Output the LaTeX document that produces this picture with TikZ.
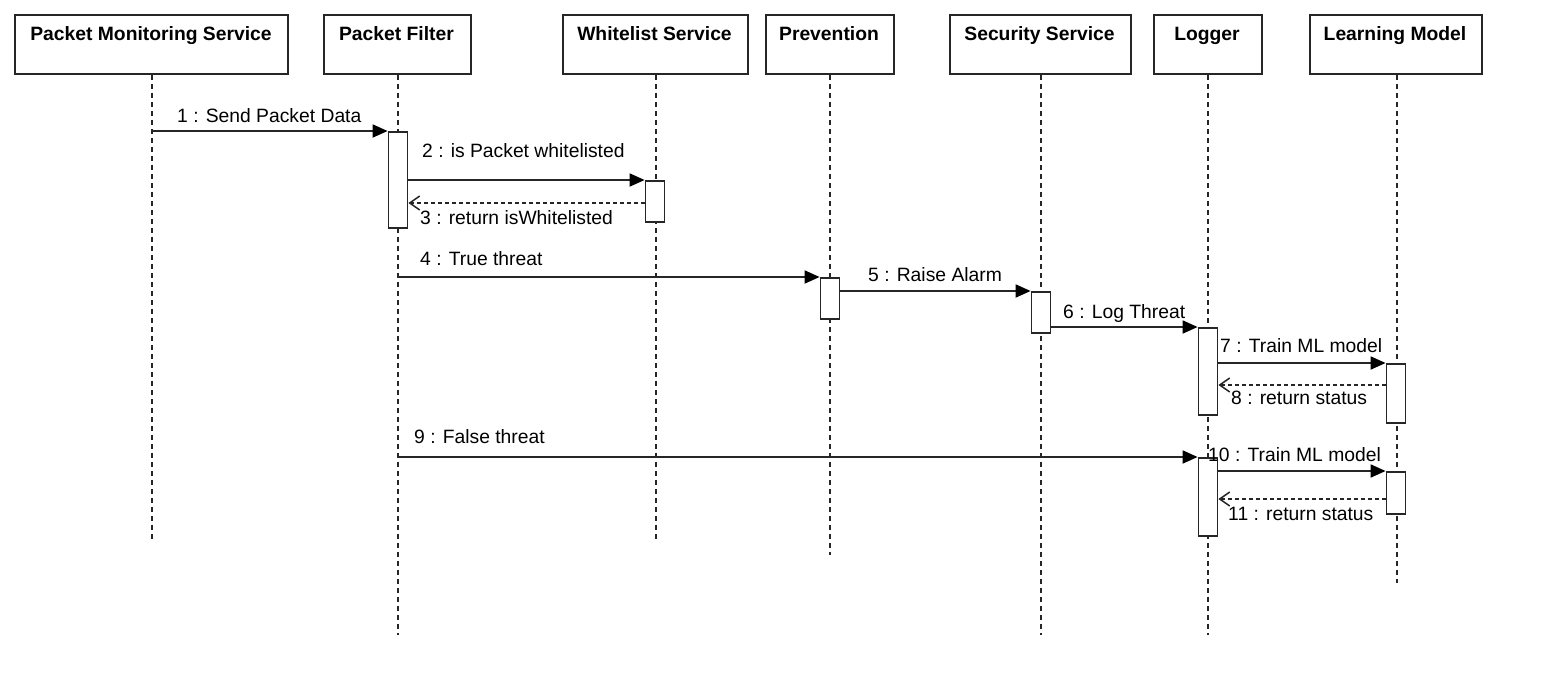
\documentclass[tikz,border=0pt]{standalone}
\usepackage{fontspec}
\setmainfont{Liberation Sans}
\usetikzlibrary{arrows.meta,calc}
\begin{document}
\begin{tikzpicture}[x=1pt,y=-1pt,
  hdr/.style={draw=black!85, line width=1.8pt, rectangle, inner sep=0pt, anchor=north west, minimum height=59pt},
  hdrtext/.style={font=\fontsize{19.3}{22}\selectfont\bfseries, inner sep=0pt, anchor=base},
  life/.style={draw=black!85, line width=1.3pt, dash pattern=on 5pt off 4pt},
  act/.style={draw=black!85, fill=white, line width=1.8pt, rectangle, inner sep=0pt, minimum width=19pt, anchor=north},
  msg/.style={draw=black!85, line width=1.8pt, -{Triangle[length=15pt,width=13pt,fill=black,color=black]}},
  ret/.style={draw=black!85, line width=1.5pt, dash pattern=on 4pt off 3pt, -{Straight Barb[length=10pt,width=14pt]}},
  lbl/.style={font=\fontsize{19.3}{22}\selectfont, inner sep=0pt, anchor=base west}]
\useasboundingbox[fill=white] (0,0) rectangle (1542,699);

% headers
\node[hdr, minimum width=273pt] (pms) at (14,14) {};
\node[hdrtext] (pmsT) at (151,40) {Packet Monitoring Service};
\node[hdr, minimum width=147pt] (pf) at (323,14) {};
\node[hdrtext] (pfT) at (396.5,40) {Packet Filter};
\node[hdr, minimum width=185pt] (wl) at (562,14) {};
\node[hdrtext] (wlT) at (654.5,40) {Whitelist Service};
\node[hdr, minimum width=128pt] (pv) at (765,14) {};
\node[hdrtext] (pvT) at (829,40) {Prevention};
\node[hdr, minimum width=181pt] (ss) at (949,14) {};
\node[hdrtext] (ssT) at (1039.5,40) {Security Service};
\node[hdr, minimum width=108pt] (lg) at (1153,14) {};
\node[hdrtext] (lgT) at (1207,40) {Logger};
\node[hdr, minimum width=172pt] (lm) at (1309,14) {};
\node[hdrtext] (lmT) at (1395,40) {Learning Model};

% lifeline ends
\coordinate (pmsE) at (152,540);
\coordinate (pfE) at (398,635);
\coordinate (wlE) at (656,540);
\coordinate (pvE) at (830,555);
\coordinate (ssE) at (1041,635);
\coordinate (lgE) at (1208,635);
\coordinate (lmE) at (1397,583);

\draw[life] (pms.south -| pmsE) -- (pmsE);
\draw[life] (pf.south -| pfE) -- (pfE);
\draw[life] (wl.south -| wlE) -- (wlE);
\draw[life] (pv.south -| pvE) -- (pvE);
\draw[life] (ss.south -| ssE) -- (ssE);
\draw[life] (lg.south -| lgE) -- (lgE);
\draw[life] (lm.south -| lmE) -- (lmE);

% activations
\node[act, minimum height=96pt] (a1) at (398,131) {};
\node[act, minimum height=41pt] (w1) at (655,180) {};
\node[act, minimum height=41pt] (p1) at (830,277) {};
\node[act, minimum height=41pt] (s1) at (1041,291) {};
\node[act, minimum height=87pt] (l1) at (1208,327) {};
\node[act, minimum height=59pt] (m1) at (1396,363) {};
\node[act, minimum height=78pt] (l2) at (1208,457) {};
\node[act, minimum height=42pt] (m2) at (1396,471) {};

% messages
\draw[msg] (pmsE |- a1.north) -- (a1.north west);
\node[lbl] (t1) at (177,122) {1 : Send Packet Data};

\draw[msg] (a1.east |- w1.north) -- (w1.north west);
\node[lbl] (t2) at (422,157) {2 : is Packet whitelisted};

\coordinate (r3) at ([yshift=-23pt]w1.north west);
\draw[ret] (r3) -- (a1.east |- r3);
\node[lbl] (t3) at (420,224) {3 : return isWhitelisted};

\draw[msg] (pfE |- p1.north) -- (p1.north west);
\node[lbl] (t4) at (420,265) {4 : True threat};

\draw[msg] (p1.east |- s1.north) -- (s1.north west);
\node[lbl] (t5) at (868,281) {5 : Raise Alarm};

\draw[msg] (s1.east |- l1.north) -- (l1.north west);
\node[lbl] (t6) at (1063,318) {6 : Log Threat};

\draw[msg] (l1.east |- m1.north) -- (m1.north west);
\node[lbl] (t7) at (1220,352) {7 : Train ML model};

\coordinate (r8) at ([yshift=-22pt]m1.north west);
\draw[ret] (r8) -- (l1.east |- r8);
\node[lbl] (t8) at (1231,404) {8 : return status};

\draw[msg] (pfE |- l2.north) -- (l2.north west);
\node[lbl] (t9) at (414,443) {9 : False threat};

\draw[msg] (l2.east |- m2.north) -- (m2.north west);
\node[lbl] (t10) at (1208,461) {10 : Train ML model};

\coordinate (r11) at ([yshift=-28pt]m2.north west);
\draw[ret] (r11) -- (l2.east |- r11);
\node[lbl] (t11) at (1228,520) {11 : return status};
\end{tikzpicture}
\end{document}
